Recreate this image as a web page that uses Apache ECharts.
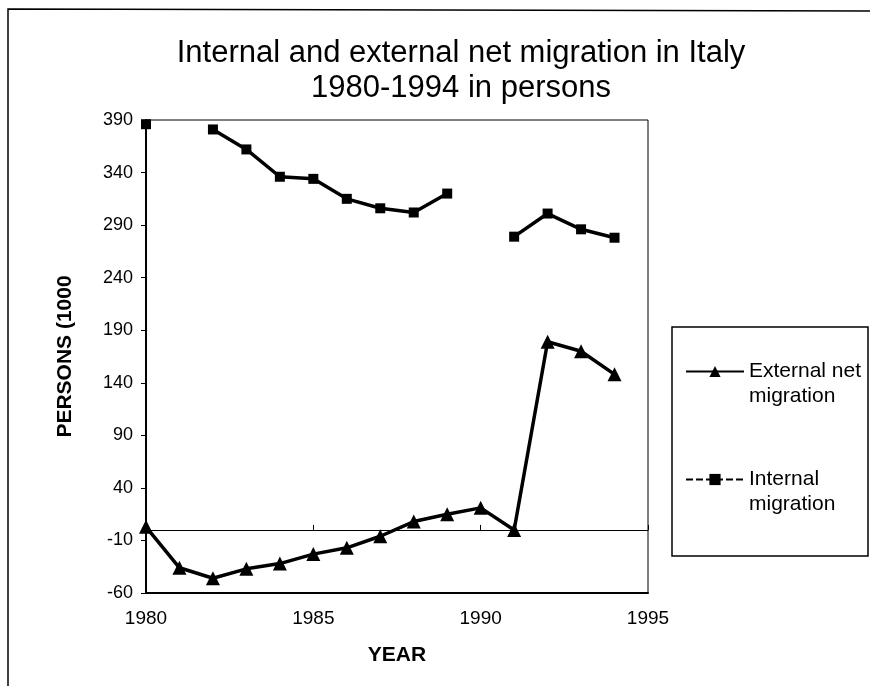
<!DOCTYPE html>
<html>
<head>
<meta charset="utf-8">
<title>Internal and external net migration in Italy</title>
<script src="https://cdn.jsdelivr.net/npm/echarts@6/dist/echarts.min.js"></script>
<style>
    html, body { margin: 0; padding: 0; background: #fff; }
    #chart { width: 870px; height: 686px; }
</style>
</head>
<body>
<div id="chart"></div>
<script>
// values, persons (1000)
var years = [1980, 1981, 1982, 1983, 1984, 1985, 1986, 1987, 1988, 1989, 1990, 1991, 1992, 1993, 1994];
var externalNet = [3, -36, -46, -37, -32, -23, -17, -6, 8, 15, 21, 0, 179, 170, 148];
var internalMig = [386, null, 381, 362, 336, 334, 315, 306, 302, 320, null, 279, 301, 286, 278];
var yTicks = [-60, -10, 40, 90, 140, 190, 240, 290, 340, 390];

var font = 'Liberation Sans, Arial, sans-serif';

function pairs(values) {
    var out = [];
    for (let i = 0; i < years.length; i++) {
        out.push([years[i], values[i]]);
    }
    return out;
}

var chartDom = document.getElementById('chart');
var myChart = echarts.init(chartDom);
var option;

option = {
    animation: false,
    backgroundColor: '#fff',
    textStyle: { fontFamily: font, color: '#000' },
    title: {
        text: 'Internal and external net migration in Italy\n1980-1994 in persons',
        left: 456,
        top: 31,
        textAlign: 'center',
        textStyle: {
            fontFamily: font,
            fontSize: 31,
            fontWeight: 'normal',
            color: '#000',
            lineHeight: 35
        }
    },
    grid: {
        left: 146,
        right: 222,
        top: 120,
        bottom: 93,
        show: true,
        borderColor: '#000',
        borderWidth: 1
    },
    legend: {
        orient: 'vertical',
        left: 680,
        top: 329,
        itemWidth: 58,
        itemHeight: 14,
        itemGap: 33,
        textStyle: {
            fontFamily: font,
            fontSize: 21,
            color: '#000',
            lineHeight: 25
        },
        // empty first line keeps the icon level with the first text line
        formatter: function (name) {
            return '\n' + name.replace(' migration', '\nmigration');
        },
        data: [
            'External net migration',
            { name: 'Internal migration', lineStyle: { type: [7, 3] } }
        ]
    },
    xAxis: [
        {
            type: 'value',
            min: 1980,
            max: 1995,
            interval: 5,
            name: 'YEAR',
            nameLocation: 'middle',
            nameGap: 52,
            nameTextStyle: { fontFamily: font, fontSize: 21, fontWeight: 'bold', color: '#000' },
            axisLine: { onZero: false, lineStyle: { color: '#000', width: 2 } },
            axisTick: { show: false },
            axisLabel: {
                fontFamily: font, fontSize: 19, color: '#000', margin: 16,
                formatter: function (v) { return String(v); }
            },
            splitLine: { show: false }
        },
        {
            type: 'value',
            min: 1980,
            max: 1995,
            interval: 5,
            position: 'bottom',
            axisLine: { show: true, onZero: true, onZeroAxisIndex: 0, lineStyle: { color: '#000', width: 1 } },
            axisTick: { show: true, inside: true, length: 5, lineStyle: { color: '#000' } },
            axisLabel: { show: false },
            splitLine: { show: false }
        }
    ],
    yAxis: {
        type: 'value',
        min: -60,
        max: 390,
        name: 'PERSONS (1000',
        nameLocation: 'middle',
        nameGap: 70,
        nameTextStyle: { fontFamily: font, fontSize: 21, fontWeight: 'bold', color: '#000' },
        axisLine: { show: true, lineStyle: { color: '#000', width: 2 } },
        axisTick: { show: true, length: 5, customValues: yTicks, lineStyle: { color: '#000' } },
        axisLabel: { fontFamily: font, fontSize: 18, color: '#000', margin: 13, customValues: yTicks },
        splitLine: { show: false }
    },
    graphic: [
        {
            type: 'rect',
            shape: { x: 672, y: 327, width: 196, height: 229 },
            style: { fill: 'none', stroke: '#000', lineWidth: 1.5 },
            z: 0
        },
        {
            type: 'polyline',
            shape: { points: [[8, 686], [8, 9], [870, 11]] },
            style: { fill: 'none', stroke: '#000', lineWidth: 1.5 }
        }
    ],
    series: [
        {
            name: 'External net migration',
            type: 'line',
            data: pairs(externalNet),
            symbol: 'triangle',
            symbolSize: 14,
            itemStyle: { color: '#000' },
            lineStyle: { color: '#000', width: 3.5 }
        },
        {
            name: 'Internal migration',
            type: 'line',
            data: pairs(internalMig),
            connectNulls: false,
            symbol: 'rect',
            symbolSize: 10,
            itemStyle: { color: '#000' },
            lineStyle: { color: '#000', width: 3.5 }
        }
    ]
};

option && myChart.setOption(option);

window.addEventListener('resize', myChart.resize);
</script>
</body>
</html>
